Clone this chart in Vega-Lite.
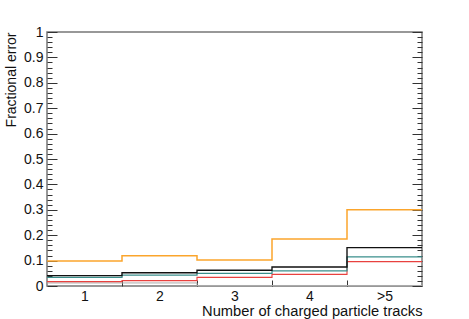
{
  "$schema": "https://vega.github.io/schema/vega-lite/v6.json",
  "width": 375,
  "height": 254,
  "autosize": {"type": "none"},
  "padding": {"left": 47, "top": 32, "right": 47, "bottom": 33},
  "background": "white",
  "config": {
    "view": {"stroke": "#777777", "strokeWidth": 1.5},
    "axis": {"labelFont": "Liberation Sans", "titleFont": "Liberation Sans", "labelFontSize": 14, "titleFontSize": 14, "labelColor": "#111", "titleColor": "#111", "titleFontWeight": "normal", "domain": false, "grid": false, "tickColor": "#333", "tickWidth": 1}
  },
  "data": {"values": [
    {"series": "gray", "lo": 0.5, "v": 0.012}, {"series": "gray", "lo": 1.5, "v": 0.012}, {"series": "gray", "lo": 2.5, "v": 0.002}, {"series": "gray", "lo": 3.5, "v": 0.002}, {"series": "gray", "lo": 4.5, "v": 0.002}, {"series": "gray", "lo": 5.5, "v": 0.002},
    {"series": "red", "lo": 0.5, "v": 0.017}, {"series": "red", "lo": 1.5, "v": 0.021}, {"series": "red", "lo": 2.5, "v": 0.034}, {"series": "red", "lo": 3.5, "v": 0.046}, {"series": "red", "lo": 4.5, "v": 0.096}, {"series": "red", "lo": 5.5, "v": 0.096},
    {"series": "teal", "lo": 0.5, "v": 0.034}, {"series": "teal", "lo": 1.5, "v": 0.043}, {"series": "teal", "lo": 2.5, "v": 0.050}, {"series": "teal", "lo": 3.5, "v": 0.060}, {"series": "teal", "lo": 4.5, "v": 0.115}, {"series": "teal", "lo": 5.5, "v": 0.115},
    {"series": "black", "lo": 0.5, "v": 0.041}, {"series": "black", "lo": 1.5, "v": 0.052}, {"series": "black", "lo": 2.5, "v": 0.062}, {"series": "black", "lo": 3.5, "v": 0.075}, {"series": "black", "lo": 4.5, "v": 0.151}, {"series": "black", "lo": 5.5, "v": 0.151},
    {"series": "orange", "lo": 0.5, "v": 0.098}, {"series": "orange", "lo": 1.5, "v": 0.119}, {"series": "orange", "lo": 2.5, "v": 0.102}, {"series": "orange", "lo": 3.5, "v": 0.185}, {"series": "orange", "lo": 4.5, "v": 0.300}, {"series": "orange", "lo": 5.5, "v": 0.300}
  ]},
  "layer": [
    {
      "mark": {"type": "line", "interpolate": "step-after", "clip": true},
      "encoding": {
        "x": {"field": "lo", "type": "quantitative", "scale": {"domain": [0.5, 5.5], "nice": false, "zero": false},
          "axis": {"orient": "bottom", "values": [1, 2, 3, 4, 5], "ticks": false, "labelPadding": 3, "labelExpr": "datum.value == 5 ? '>5' : datum.label", "title": "Number of charged particle tracks", "titleFontSize": 14.7, "titleAnchor": "end", "titleAlign": "right", "titleBaseline": "alphabetic", "titleY": 29}},
        "y": {"field": "v", "type": "quantitative", "scale": {"domain": [0, 1], "nice": false},
          "axis": {"orient": "left", "values": [0, 0.1, 0.2, 0.3, 0.4, 0.5, 0.6, 0.7, 0.8, 0.9, 1], "format": "~g", "ticks": false, "labelPadding": 4, "labelFlush": false, "labelOverlap": false, "title": "Fractional error", "titleAnchor": "end", "titleAngle": -90, "titleAlign": "right", "titleBaseline": "alphabetic", "titleX": -32, "titleY": 0}},
        "color": {"field": "series", "type": "nominal", "legend": null, "scale": {"domain": ["gray", "red", "teal", "black", "orange"], "range": ["#aaaaaa", "#e8413f", "#3a8f8c", "#111111", "#fba52c"]}},
        "strokeWidth": {"field": "series", "type": "nominal", "legend": null, "scale": {"domain": ["gray", "red", "teal", "black", "orange"], "range": [1, 1.5, 1.5, 2, 2]}},
        "order": {"field": "series"}
      }
    },
    {
      "mark": {"type": "line", "opacity": 0},
      "encoding": {
        "x": {"field": "lo", "type": "quantitative", "axis": {"orient": "bottom", "values": [1.5, 2.5, 3.5, 4.5], "labels": false, "tickSize": -6, "title": null}},
        "y": {"field": "v", "type": "quantitative", "axis": {"orient": "left", "values": [0, 0.1, 0.2, 0.3, 0.4, 0.5, 0.6, 0.7, 0.8, 0.9, 1], "labels": false, "tickSize": -10, "title": null}},
        "detail": {"field": "series"}
      }
    },
    {
      "mark": {"type": "line", "opacity": 0},
      "encoding": {
        "x": {"field": "lo", "type": "quantitative", "axis": null},
        "y": {"field": "v", "type": "quantitative", "axis": {"orient": "left", "values": [0.02, 0.04, 0.06, 0.08, 0.12, 0.14, 0.16, 0.18, 0.22, 0.24, 0.26, 0.28, 0.32, 0.34, 0.36, 0.38, 0.42, 0.44, 0.46, 0.48, 0.52, 0.54, 0.56, 0.58, 0.62, 0.64, 0.66, 0.68, 0.72, 0.74, 0.76, 0.78, 0.82, 0.84, 0.86, 0.88, 0.92, 0.94, 0.96, 0.98], "labels": false, "tickSize": -5, "title": null}},
        "detail": {"field": "series"}
      }
    },
    {
      "mark": {"type": "line", "opacity": 0},
      "encoding": {
        "x": {"field": "lo", "type": "quantitative", "axis": null},
        "y": {"field": "v", "type": "quantitative", "axis": {"orient": "right", "values": [0, 0.1, 0.2, 0.3, 0.4, 0.5, 0.6, 0.7, 0.8, 0.9, 1], "labels": false, "tickSize": -10, "title": null}},
        "detail": {"field": "series"}
      }
    },
    {
      "mark": {"type": "line", "opacity": 0},
      "encoding": {
        "x": {"field": "lo", "type": "quantitative", "axis": null},
        "y": {"field": "v", "type": "quantitative", "axis": {"orient": "right", "values": [0.02, 0.04, 0.06, 0.08, 0.12, 0.14, 0.16, 0.18, 0.22, 0.24, 0.26, 0.28, 0.32, 0.34, 0.36, 0.38, 0.42, 0.44, 0.46, 0.48, 0.52, 0.54, 0.56, 0.58, 0.62, 0.64, 0.66, 0.68, 0.72, 0.74, 0.76, 0.78, 0.82, 0.84, 0.86, 0.88, 0.92, 0.94, 0.96, 0.98], "labels": false, "tickSize": -5, "title": null}},
        "detail": {"field": "series"}
      }
    }
  ],
  "resolve": {"axis": {"x": "independent", "y": "independent"}}
}
